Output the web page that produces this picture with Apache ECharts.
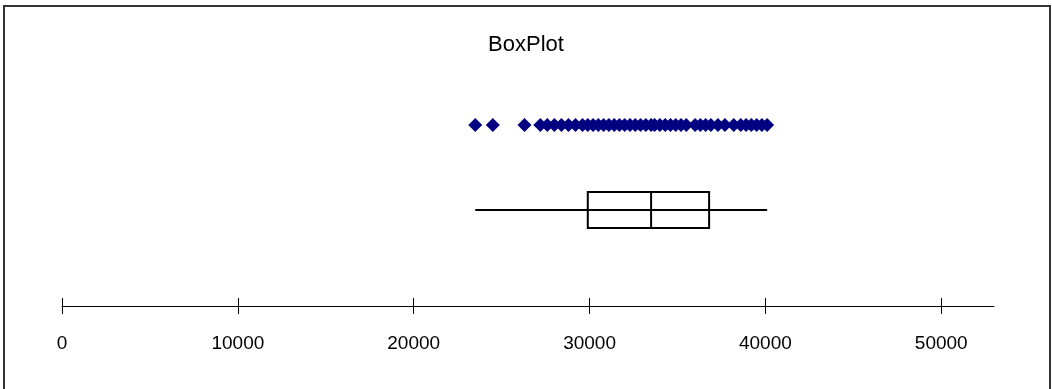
<!DOCTYPE html>
<html>
<head>
<meta charset="utf-8">
<script src="https://cdn.jsdelivr.net/npm/echarts@6/dist/echarts.min.js"></script>
<style>
html, body { margin: 0; padding: 0; background: #fff; }
#box { width: 1052px; height: 389px; }
</style>
</head>
<body>
<div id="box"></div>
<script>
// five-number summary: min, Q1, median, Q3, max
var boxStats = [23500, 29900, 33500, 36800, 40100];
// individual observations (diamonds)
var points = [23500, 24500, 26300, 27200, 27600, 28000, 28400, 28800, 29200, 29600,
    29900, 30200, 30500, 30800, 31100, 31400, 31700, 32000, 32300, 32600,
    32900, 33200, 33500, 33700, 34000, 34300, 34600, 34900, 35200, 35500,
    36000, 36300, 36600, 36900, 37300, 37700, 38200, 38600, 38900, 39200,
    39500, 39800, 40100];
var tickValues = [0, 10000, 20000, 30000, 40000, 50000];
var axisMax = 53000;

var font = '"Liberation Sans", Arial, sans-serif';
var myChart = echarts.init(document.getElementById('box'));

var hiddenX = function (idx) {
    return { type: 'value', gridIndex: idx, min: 0, max: axisMax, show: false };
};

// box drawn like the old spreadsheet style: one line min->max, box over it, median bar
function renderBox(params, api) {
    var y = api.coord([0, 0])[1];
    var half = 18;
    var pMin = api.coord([api.value(0), 0]);
    var pQ1 = api.coord([api.value(1), 0]);
    var pMed = api.coord([api.value(2), 0]);
    var pQ3 = api.coord([api.value(3), 0]);
    var pMax = api.coord([api.value(4), 0]);
    var st = { stroke: '#000', lineWidth: 2, fill: 'none' };
    return {
        type: 'group',
        children: [
            { type: 'rect', shape: { x: pQ1[0], y: y - half, width: pQ3[0] - pQ1[0], height: half * 2 }, style: st },
            { type: 'line', shape: { x1: pMin[0], y1: y, x2: pMax[0], y2: y }, style: st },
            { type: 'line', shape: { x1: pMed[0], y1: y - half, x2: pMed[0], y2: y + half }, style: st }
        ]
    };
}

option = {
    animation: false,
    title: {
        text: 'BoxPlot',
        left: 'center',
        top: 29,
        textStyle: { color: '#000', fontWeight: 'normal', fontSize: 22, fontFamily: font }
    },
    graphic: [{
        type: 'rect',
        shape: { x: 4, y: 6, width: 1046, height: 400 },
        style: { fill: 'none', stroke: '#333', lineWidth: 2 }
    }],
    grid: [
        { left: 62, right: 58, top: 298, height: 8 },   // axis only
        { left: 62, right: 58, top: 190, height: 40 },  // box
        { left: 62, right: 58, top: 112, height: 26 }   // points
    ],
    xAxis: [
        {
            type: 'value', gridIndex: 0, min: 0, max: axisMax,
            splitLine: { show: false },
            axisLine: { show: true, lineStyle: { color: '#000', width: 1 } },
            axisTick: { show: true, length: 8, customValues: tickValues, lineStyle: { color: '#000' } },
            axisLabel: {
                color: '#000', fontSize: 19, fontFamily: font, margin: 28,
                customValues: tickValues,
                formatter: function (v) { return String(v); }
            }
        },
        {
            type: 'value', gridIndex: 0, min: 0, max: axisMax,
            position: 'bottom',
            splitLine: { show: false },
            axisLine: { show: false },
            axisTick: { show: true, inside: true, length: 8, customValues: tickValues, lineStyle: { color: '#000' } },
            axisLabel: { show: false }
        },
        hiddenX(1),
        hiddenX(2)
    ],
    yAxis: [
        { type: 'value', gridIndex: 0, show: false },
        { type: 'value', gridIndex: 1, min: -1, max: 1, show: false },
        { type: 'category', gridIndex: 2, data: ['points'], show: false }
    ],
    series: [
        {
            type: 'custom',
            xAxisIndex: 2, yAxisIndex: 1,
            renderItem: renderBox,
            encode: { x: [0, 1, 2, 3, 4] },
            data: [boxStats]
        },
        {
            type: 'scatter',
            xAxisIndex: 3, yAxisIndex: 2,
            symbol: 'diamond',
            symbolSize: 14,
            itemStyle: { color: '#000080', opacity: 1 },
            data: points.map(function (v) { return [v, 'points']; })
        }
    ]
};

myChart.setOption(option);
</script>
</body>
</html>
